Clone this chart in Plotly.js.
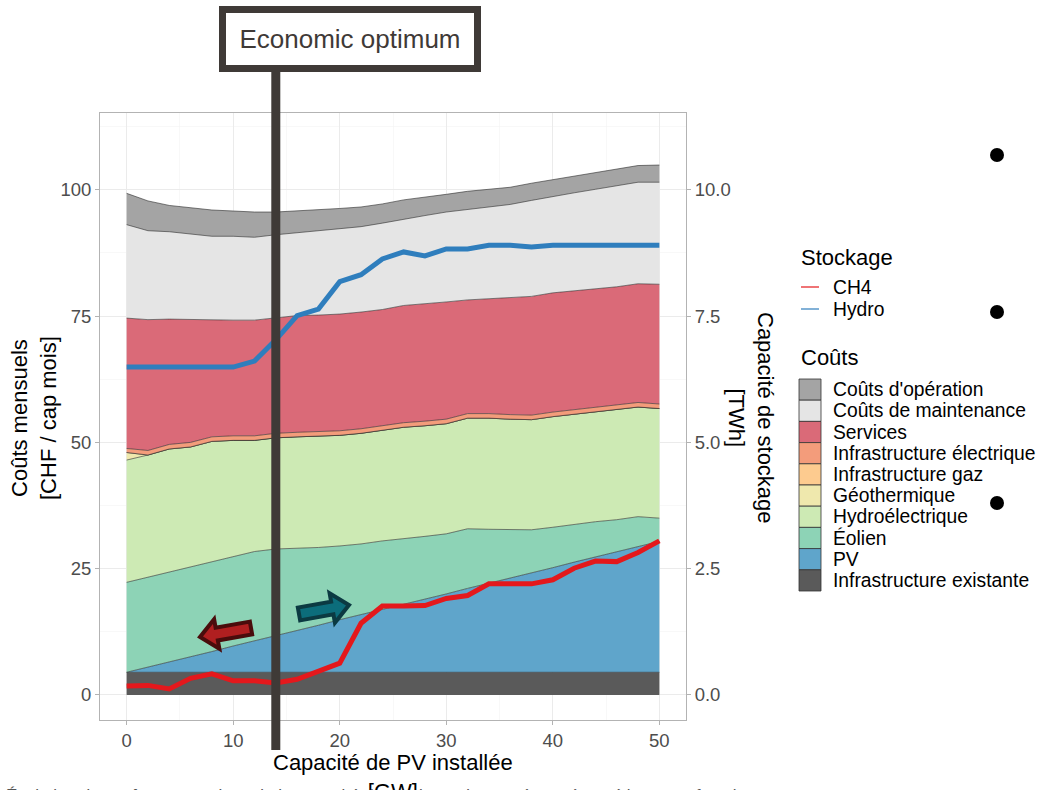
<!DOCTYPE html>
<html><head><meta charset="utf-8">
<script src="https://cdn.plot.ly/plotly-3.0.1.min.js"></script>
<style>html,body{margin:0;padding:0;background:#fff;} #chart{width:1041px;height:790px;}</style>
</head><body><div id="chart"></div>
<script>
// ---- Data ----
const pvCapacity = [0,2,4,6,8,10,12,14,16,18,20,22,24,26,28,30,32,34,36,38,40,42,44,46,48,50];

const costInfraExistante = [4.5,4.5,4.5,4.5,4.5,4.5,4.5,4.5,4.5,4.5,4.5,4.5,4.5,4.5,4.5,4.5,4.5,4.5,4.5,4.5,4.5,4.5,4.5,4.5,4.5,4.5];
const costPV = [0,1.0,2.1,3.1,4.1,5.2,6.2,7.3,8.3,9.3,10.4,11.4,12.4,13.5,14.5,15.5,16.6,17.6,18.6,19.7,20.7,21.8,22.8,23.8,24.9,25.9];
const costEolien = [17.8,17.8,17.7,17.7,17.7,17.6,17.7,17.1,16.2,15.4,14.6,14.0,13.6,12.9,12.4,11.9,11.8,10.7,9.6,8.5,8.0,7.5,7.0,6.4,5.9,4.6];
const costHydro = [24.2,24.2,24.4,23.8,23.9,23.1,22.0,22.0,22.1,22.0,21.9,21.9,21.9,22.1,21.9,21.8,21.9,22.0,21.9,21.8,21.9,21.8,21.7,21.8,21.7,21.7];
const costGeo = [1.5,0,0,0,0,0,0,0,0,0,0,0,0,0,0,0,0,0,0,0,0,0,0,0,0,0];
const costGaz = [0,0,0,0,0,0,0,0,0,0,0,0,0,0,0,0,0,0,0,0,0,0,0,0,0,0];
const costElec = [0.8,0.9,0.9,0.9,0.9,0.9,0.9,0.9,0.9,0.9,0.9,0.9,0.9,0.9,0.9,0.9,0.9,0.9,0.9,0.9,0.9,0.9,0.9,0.9,0.9,0.9];
const costServices = [25.8,25.9,24.8,24.3,23.1,22.9,22.9,22.9,23.1,23.1,23.1,23.1,23.0,23.2,23.2,23.2,22.5,22.7,23.1,23.5,23.6,23.5,23.4,23.4,23.5,23.7];
const costMaintenance = [18.5,17.6,17.3,17.0,16.6,16.6,16.4,16.4,16.4,16.7,16.8,16.9,17.1,17.1,17.5,17.8,17.9,18.1,18.5,19.0,19.1,19.4,19.8,20.0,20.1,20.2];
const costOperation = [6.2,5.9,5.2,5.2,5.2,5.0,5.0,4.5,4.3,4.1,4.1,3.9,3.8,3.8,3.6,3.5,3.6,3.6,3.4,3.4,3.3,3.3,3.2,3.2,3.3,3.4];

const storageCH4 = [0.18,0.19,0.12,0.33,0.42,0.28,0.28,0.24,0.31,0.48,0.63,1.42,1.76,1.76,1.77,1.91,1.97,2.20,2.20,2.20,2.28,2.51,2.65,2.64,2.82,3.05];
const storageHydro = [6.49,6.49,6.49,6.49,6.49,6.49,6.61,7.03,7.51,7.64,8.18,8.32,8.63,8.77,8.69,8.83,8.83,8.90,8.90,8.87,8.90,8.90,8.90,8.90,8.90,8.90];

const costNames = ["Infrastructure existante","PV","Éolien","Hydroélectrique","Géothermique","Infrastructure gaz","Infrastructure électrique","Services","Coûts de maintenance","Coûts d'opération"];
const costSeries = [costInfraExistante,costPV,costEolien,costHydro,costGeo,costGaz,costElec,costServices,costMaintenance,costOperation];
const costColors = ["#5a5a5a","#5fa5cb","#8dd3b6","#cdeab4","#efe8ad","#fdcb8f","#f39c7b","#da6a78","#e5e5e5","#a4a4a4"];

const storageNames = ["CH4","Hydro"];
const storageSeries = [storageCH4, storageHydro];
const storageColors = ["#e4181c","#2f7ebd"];

const xTicks = [0,10,20,30,40,50];
const yTicks = [0,25,50,75,100];
const y2Ticks = [0,2.5,5,7.5,10];
const optimumPV = 14;

// ---- Traces ----
const traces = [];
costSeries.forEach((vals,i)=>{
  traces.push({
    x: pvCapacity, y: vals, name: costNames[i], type:'scatter', mode:'lines',
    stackgroup:'costs', fillcolor: costColors[i],
    line:{color:'rgba(40,40,40,0.85)', width:0.7},
    showlegend:false, hoverinfo:'skip'
  });
});
storageSeries.forEach((vals,i)=>{
  traces.push({
    x: pvCapacity, y: vals, name: storageNames[i], type:'scatter', mode:'lines',
    yaxis:'y2', line:{color: storageColors[i], width:5},
    showlegend:false
  });
});

// ---- Layout helpers (pixel -> paper) ----
const L=100, T=113, W=586, H=607;
const X = px => (px-L)/W;
const Y = py => (T+H-py)/H;
const FONT = 'Liberation Sans, Arial, sans-serif';

const shapes = [];
const annotations = [];

// optimum vertical line
shapes.push({type:'line', xref:'x', yref:'paper', x0:optimumPV, x1:optimumPV, y0:Y(750), y1:Y(68),
  line:{color:'#3f3a37', width:9}, layer:'above'});

// arrows
function arrowPath(tail, tip, shaftHalf, headHalf, headLen){
  const dx=tip[0]-tail[0], dy=tip[1]-tail[1];
  const len=Math.hypot(dx,dy); const ux=dx/len, uy=dy/len; const nx=-uy, ny=ux;
  const b=[tip[0]-ux*headLen, tip[1]-uy*headLen];
  const pts=[
    [tail[0]+nx*shaftHalf, tail[1]+ny*shaftHalf],
    [b[0]+nx*shaftHalf, b[1]+ny*shaftHalf],
    [b[0]+nx*headHalf, b[1]+ny*headHalf],
    tip,
    [b[0]-nx*headHalf, b[1]-ny*headHalf],
    [b[0]-nx*shaftHalf, b[1]-ny*shaftHalf],
    [tail[0]-nx*shaftHalf, tail[1]-ny*shaftHalf]
  ];
  return 'M'+pts.map(p=>X(p[0]).toFixed(5)+','+Y(p[1]).toFixed(5)).join('L')+'Z';
}
shapes.push({type:'path', xref:'paper', yref:'paper', path:arrowPath([251,628],[200,637],6.5,15,17),
  fillcolor:'#b01f20', line:{color:'#4a0c0c', width:4}, layer:'above'});
shapes.push({type:'path', xref:'paper', yref:'paper', path:arrowPath([299,614],[349,605],6.5,15,17),
  fillcolor:'#0c6d7b', line:{color:'#0b3a42', width:4}, layer:'above'});

// dots on right
[[997,155],[997,312],[997,503]].forEach(p=>{
  shapes.push({type:'circle', xref:'paper', yref:'paper', x0:X(p[0]-7), x1:X(p[0]+7), y0:Y(p[1]+7), y1:Y(p[1]-7),
    fillcolor:'#000', line:{width:0}});
});

// Economic optimum box
annotations.push({xref:'paper', yref:'paper', x:X(350), y:Y(39), xanchor:'center', yanchor:'middle',
  text:'Economic optimum', showarrow:false, font:{family:FONT, size:26, color:'#3f3a37'},
  bgcolor:'#ffffff', bordercolor:'#3f3a37', borderwidth:7, borderpad:4, width:240, height:44});

// axis titles
annotations.push({xref:'paper', yref:'paper', x:X(393), y:Y(748), xanchor:'center', yanchor:'top',
  text:'Capacité de PV installée<br>[GW]', showarrow:false, font:{family:FONT, size:22, color:'#000'}});
annotations.push({xref:'paper', yref:'paper', x:X(34), y:Y(418), xanchor:'center', yanchor:'middle', textangle:-90,
  text:'Coûts mensuels<br>[CHF / cap mois]', showarrow:false, font:{family:FONT, size:22, color:'#000'}});
annotations.push({xref:'paper', yref:'paper', x:X(751), y:Y(418), xanchor:'center', yanchor:'middle', textangle:90,
  text:'Capacité de stockage<br>[TWh]', showarrow:false, font:{family:FONT, size:22, color:'#000'}});

// caption (cut off at bottom edge, as in the reference)
annotations.push({xref:'paper', yref:'paper', x:X(4), y:Y(784), xanchor:'left', yanchor:'top',
  text:'Évolution des coûts mensuels et de la capacité de stockage des systèmes énergétiques en fonction', showarrow:false,
  font:{family:FONT, size:17, color:'#555'}});

// manual legend
const legFont = {family:FONT, size:19.3, color:'#000'};
const legTitleFont = {family:FONT, size:22, color:'#000'};
annotations.push({xref:'paper', yref:'paper', x:X(799), y:Y(257), xanchor:'left', yanchor:'middle', text:'Stockage', showarrow:false, font:legTitleFont});
storageNames.forEach((n,i)=>{
  const cy = 287 + i*22;
  shapes.push({type:'line', xref:'paper', yref:'paper', x0:X(801), x1:X(819), y0:Y(cy), y1:Y(cy), line:{color:storageColors[i], width:1.2}});
  annotations.push({xref:'paper', yref:'paper', x:X(831), y:Y(cy), xanchor:'left', yanchor:'middle', text:n, showarrow:false, font:legFont});
});
annotations.push({xref:'paper', yref:'paper', x:X(799), y:Y(357), xanchor:'left', yanchor:'middle', text:'Coûts', showarrow:false, font:legTitleFont});
for(let k=0;k<costNames.length;k++){
  const i = costNames.length-1-k;
  const top = 379 + k*21.2;
  shapes.push({type:'rect', xref:'paper', yref:'paper', x0:X(799), x1:X(821), y0:Y(top+21.2), y1:Y(top),
    fillcolor:costColors[i], line:{color:'#333', width:0.8}});
  annotations.push({xref:'paper', yref:'paper', x:X(831), y:Y(top+10.6), xanchor:'left', yanchor:'middle', text:costNames[i], showarrow:false, font:legFont});
}

const axisCommon = {
  ticks:'outside', ticklen:4, tickcolor:'#b3b3b3', tickwidth:1,
  tickfont:{family:FONT, size:18.5, color:'#4d4d4d'},
  showline:true, linecolor:'#b3b3b3', linewidth:1, zeroline:false
};

const layout = {
  width:1041, height:790,
  margin:{l:L, r:1041-L-W, t:T, b:790-T-H, pad:0},
  paper_bgcolor:'#fff', plot_bgcolor:'#fff',
  showlegend:false,
  xaxis: Object.assign({}, axisCommon, {range:[-2.5,52.5], tickvals:xTicks, mirror:true,
    showgrid:true, gridcolor:'#ebebeb', gridwidth:1,
    minor:{showgrid:true, gridcolor:'#f3f3f3', gridwidth:0.6, dtick:5, tick0:0}}),
  yaxis: Object.assign({}, axisCommon, {range:[-4.95,115.2], tickvals:yTicks, mirror:true,
    showgrid:true, gridcolor:'#ebebeb', gridwidth:1,
    minor:{showgrid:true, gridcolor:'#f3f3f3', gridwidth:0.6, dtick:12.5, tick0:0}}),
  yaxis2: Object.assign({}, axisCommon, {range:[-0.495,11.52], tickvals:y2Ticks, tickformat:'.1f',
    overlaying:'y', side:'right', showgrid:false}),
  shapes: shapes,
  annotations: annotations,
  font:{family:FONT}
};

Plotly.newPlot('chart', traces, layout, {displayModeBar:false, staticPlot:true});
</script>
</body></html>
